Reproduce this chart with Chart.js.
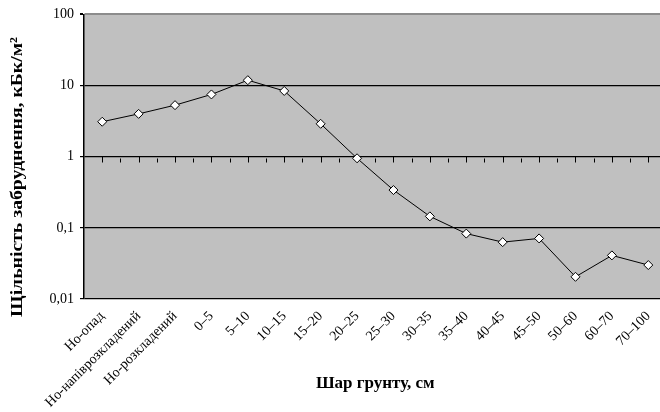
<!DOCTYPE html>
<html>
<head>
<meta charset="utf-8">
<script src="https://cdn.jsdelivr.net/npm/chart.js@4/dist/chart.umd.min.js"></script>
<style>
  html, body { margin: 0; padding: 0; background: #fff; overflow: hidden; }
  #wrap { width: 672px; height: 412px; }
</style>
</head>
<body>
<div id="wrap"><canvas id="c" width="672" height="412"></canvas></div>
<script>
// Soil layers (horizontal axis)
const categories = [
  "Но-опад", "Но-напіврозкладений", "Но-розкладений",
  "0–5", "5–10", "10–15", "15–20", "20–25", "25–30", "30–35",
  "35–40", "40–45", "45–50", "50–60", "60–70", "70–100"
];
// Contamination density, kBq/m²
const density = [
  3.1, 4.0, 5.3, 7.5, 11.9, 8.4, 2.9, 0.95, 0.34, 0.145,
  0.083, 0.063, 0.071, 0.0205, 0.041, 0.030
];
// Logarithmic scale decades and their labels
const decadeTicks = [0.01, 0.1, 1, 10, 100];
const decadeLabels = ["0,01", "0,1", "1", "10", "100"];

const yTitle = "Щільність забруднення, кБк/м²";
const xTitle = "Шар грунту, см";

const SERIF = "'Liberation Serif', 'DejaVu Serif', serif";

// Grey plot background, category axis crossing at 1, and the rotated y title
const plotDecor = {
  id: 'plotDecor',
  beforeDraw(chart) {
    const { ctx, chartArea: a } = chart;
    ctx.save();
    ctx.fillStyle = '#c0c0c0';
    ctx.fillRect(a.left, a.top, a.right - a.left, a.bottom - a.top);
    ctx.restore();
  },
  beforeDatasetsDraw(chart) {
    const { ctx, scales: { x, y } } = chart;
    const y1 = Math.round(y.getPixelForValue(1)) + 0.5;
    ctx.save();
    ctx.strokeStyle = '#000';
    ctx.lineWidth = 1;
    ctx.beginPath();
    const n = categories.length;
    const step = x.getPixelForValue(1) - x.getPixelForValue(0);
    for (let i = 0; i < n; i++) {
      const cx = Math.round(x.getPixelForValue(i)) + 0.5;
      ctx.moveTo(cx, y1 - 1);
      ctx.lineTo(cx, y1 + 5);
      const bx = Math.round(x.getPixelForValue(i) + step / 2) + 0.5;
      ctx.moveTo(bx, y1 + 1);
      ctx.lineTo(bx, y1 + 5);
    }
    ctx.stroke();
    ctx.restore();
  },
  afterDraw(chart) {
    const { ctx } = chart;
    ctx.save();
    ctx.translate(18, 177);
    ctx.rotate(-Math.PI / 2);
    ctx.font = "bold 17px " + SERIF;
    ctx.fillStyle = '#000';
    ctx.textAlign = 'center';
    ctx.textBaseline = 'middle';
    const w = ctx.measureText(yTitle).width;
    ctx.scale(280 / w, 1);
    ctx.fillText(yTitle, 0, 0);
    ctx.restore();
  }
};

new Chart(document.getElementById('c'), {
  type: 'line',
  data: {
    labels: categories,
    datasets: [{
      data: density,
      borderColor: '#000',
      borderWidth: 1,
      pointStyle: 'rectRot',
      pointRadius: 4.5,
      pointBackgroundColor: '#fff',
      pointBorderColor: '#000',
      pointBorderWidth: 1,
      tension: 0,
      clip: false
    }]
  },
  options: {
    responsive: false,
    animation: false,
    devicePixelRatio: 1,
    layout: { padding: { top: 12, right: 2, left: 0, bottom: 0 } },
    plugins: { legend: { display: false }, tooltip: { enabled: false } },
    scales: {
      x: {
        type: 'category',
        offset: true,
        grid: { display: false, drawTicks: false },
        border: { display: false },
        afterFit(s) { s.height = 113; },
        ticks: {
          autoSkip: false,
          minRotation: 45,
          maxRotation: 45,
          padding: 9,
          color: '#000',
          font: { family: SERIF, size: 14 }
        },
        title: {
          display: true,
          text: xTitle,
          color: '#000',
          font: { family: SERIF, size: 17, weight: 'bold' },
          padding: { top: 0, bottom: 18 }
        }
      },
      y: {
        type: 'logarithmic',
        min: 0.01,
        max: 100,
        afterFit(s) { s.width = 84; },
        afterBuildTicks(s) { s.ticks = decadeTicks.map(v => ({ value: v })); },
        border: { display: true, color: '#000', width: 1.5 },
        grid: {
          color: c => (c.tick && c.tick.value === 100) ? '#8c8c8c' : '#000',
          lineWidth: c => (c.tick && c.tick.value === 100) ? 2 : 1.2,
          tickColor: '#000',
          tickLength: 4
        },
        ticks: {
          padding: 6,
          color: '#000',
          font: { family: SERIF, size: 14 },
          callback: v => {
            const i = decadeTicks.findIndex(d => Math.abs(d - v) < d * 1e-6);
            return i >= 0 ? decadeLabels[i] : '';
          }
        }
      }
    }
  },
  plugins: [plotDecor]
});
</script>
</body>
</html>
